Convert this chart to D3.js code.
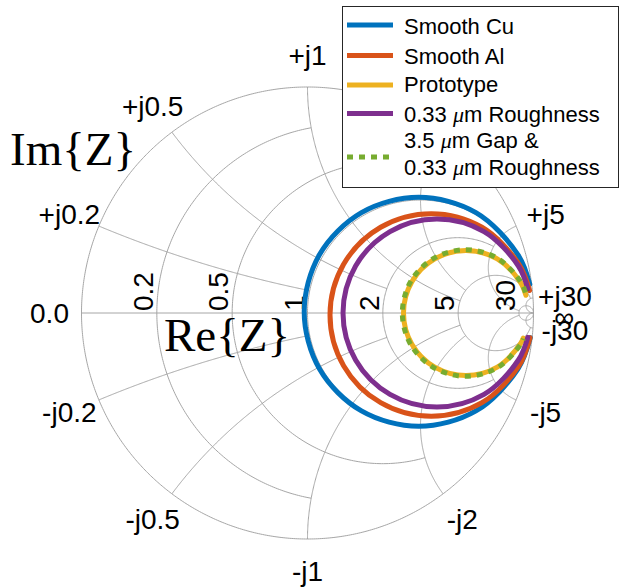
<!DOCTYPE html>
<html>
<head>
<meta charset="utf-8">
<script src="https://cdn.jsdelivr.net/npm/d3@7"></script>
<style>
  html, body { margin: 0; padding: 0; background: #fff; }
  svg { display: block; }
</style>
</head>
<body>
<svg id="chart" width="621" height="588"></svg>
<script>
// Smith chart grid: the value of each circle/arc and how far it is drawn
const gridValues = [0.2, 0.5, 1, 2, 5, 30];
const gridLimits = [1, 2, 5, 5, 30, Infinity];
const reTickLabels = ["0.2", "0.5", "1", "2", "5", "30"];
// the +j2 label sits under the legend box, so it is left empty
const posImLabels = ["+j0.2", "+j0.5", "+j1", "", "+j5", "+j30"];
const negImLabels = ["-j0.2", "-j0.5", "-j1", "-j2", "-j5", "-j30"];

// Measured reflection coefficients (real / imaginary parts) of each sample
const smoothCuRe = [0.9836, 0.9307, 0.7453, 0.4920, 0.2387, 0.0533, -0.0146, 0.0533, 0.2387, 0.4920, 0.7453, 0.9307, 0.9856];
const smoothCuIm = [0.1278, 0.2586, 0.4440, 0.5119, 0.4440, 0.2586, 0.0053, -0.2480, -0.4334, -0.5013, -0.4334, -0.2480, -0.1087];

const smoothAlRe = [0.9827, 0.9359, 0.7719, 0.5478, 0.3237, 0.1597, 0.0996, 0.1597, 0.3237, 0.5478, 0.7719, 0.9359, 0.9845];
const smoothAlIm = [0.0996, 0.2153, 0.3793, 0.4394, 0.3793, 0.2153, -0.0088, -0.2329, -0.3969, -0.4570, -0.3969, -0.2329, -0.1096];

const prototypeRe = [0.9664, 0.9408, 0.8396, 0.7013, 0.5631, 0.4618, 0.4248, 0.4618, 0.5631, 0.7013, 0.8396, 0.9408, 0.9547];
const prototypeIm = [0.0785, 0.1383, 0.2395, 0.2765, 0.2395, 0.1383, 0.0000, -0.1383, -0.2395, -0.2765, -0.2395, -0.1383, -0.1107];

const roughRe = [0.9747, 0.9332, 0.7810, 0.5730, 0.3650, 0.2128, 0.1571, 0.2128, 0.3650, 0.5730, 0.7810, 0.9332, 0.9747];
const roughIm = [0.1076, 0.2080, 0.3602, 0.4159, 0.3602, 0.2080, 0.0000, -0.2080, -0.3602, -0.4159, -0.3602, -0.2080, -0.1076];

const gapRoughRe = [0.9644, 0.9422, 0.8397, 0.6996, 0.5596, 0.4570, 0.4195, 0.4570, 0.5596, 0.6996, 0.8397, 0.9422, 0.9555];
const gapRoughIm = [0.0912, 0.1401, 0.2426, 0.2801, 0.2426, 0.1401, 0.0000, -0.1401, -0.2426, -0.2801, -0.2426, -0.1401, -0.1139];

const seriesNames = ["Smooth Cu", "Smooth Al", "Prototype", "0.33 μm Roughness", "3.5 μm Gap &\n0.33 μm Roughness"];
const seriesColors = ["#0072BD", "#D95319", "#EDB120", "#7E2F8E", "#77AC30"];
const seriesDash = [null, null, null, null, "6,6"];

const series = [
  [smoothCuRe, smoothCuIm],
  [smoothAlRe, smoothAlIm],
  [prototypeRe, prototypeIm],
  [roughRe, roughIm],
  [gapRoughRe, gapRoughIm]
].map(([re, im], i) => ({
  name: seriesNames[i], color: seriesColors[i], dash: seriesDash[i],
  points: re.map((r, k) => [r, im[k]])
}));

const svg = d3.select("#chart");
const cx = 307.5, cy = 313, R = 226;
const sx = d3.scaleLinear().domain([-1, 1]).range([cx - R, cx + R]);
const sy = d3.scaleLinear().domain([-1, 1]).range([cy + R, cy - R]);

const TAU = 2 * Math.PI;
const norm = a => ((a % TAU) + TAU) % TAU;

// reflection coefficient of normalised impedance r + jx
function gamma(r, x) {
  const d = (r + 1) * (r + 1) + x * x;
  return [(r * r - 1 + x * x) / d, 2 * x / d];
}
function arcPoints(c, rho, a0, a1, n = 240) {
  return d3.range(n + 1).map(i => {
    const a = a0 + (a1 - a0) * i / n;
    return [c[0] + rho * Math.cos(a), c[1] + rho * Math.sin(a)];
  });
}
const gridLine = d3.line().x(d => sx(d[0])).y(d => sy(d[1]));

// ---- grid ----
const grid = svg.append("g")
  .attr("fill", "none")
  .attr("stroke", "#a6a6a6")
  .attr("stroke-width", 1);

grid.append("path").attr("d", gridLine(arcPoints([0, 0], 1, 0, TAU, 720)));
grid.append("path").attr("d", gridLine([[-1, 0], [1, 0]]));

gridValues.forEach((v, i) => {
  const lim = gridLimits[i];
  // constant-resistance circle
  const c = v / (1 + v), rho = 1 / (1 + v);
  let ae = 0;
  if (isFinite(lim)) {
    const g = gamma(v, lim);
    ae = Math.atan2(g[1], g[0] - c);
  }
  grid.append("path").attr("d", gridLine(arcPoints([c, 0], rho, ae, TAU - ae)));

  // constant-reactance arcs (+v and -v)
  const xc = [1, 1 / v], rx = 1 / v;
  const p0 = gamma(0, v);
  const a0 = norm(Math.atan2(p0[1] - xc[1], p0[0] - xc[0]));
  let a1 = 1.5 * Math.PI;
  if (isFinite(lim)) {
    const pe = gamma(lim, v);
    a1 = norm(Math.atan2(pe[1] - xc[1], pe[0] - xc[0]));
  }
  const pts = arcPoints(xc, rx, a0, a1);
  [1, -1].forEach(s => {
    grid.append("path").attr("d", gridLine(pts.map(p => [p[0], s * p[1]])));
  });
});

// ---- tick labels ----
const tickFont = "'Liberation Sans', Arial, Helvetica, sans-serif";
const fs = 28;
const labels = svg.append("g")
  .attr("font-family", tickFont)
  .attr("font-size", fs)
  .attr("fill", "#000");

const off = 32;
function rimLabel(g, text) {
  if (!text) return;
  const px = cx + (R + off) * g[0];
  const py = cy - (R + off) * g[1];
  labels.append("text")
    .attr("x", px).attr("y", py + 0.35 * fs)
    .attr("text-anchor", "middle")
    .text(text);
}
gridValues.forEach((v, i) => {
  rimLabel(gamma(0, v), posImLabels[i]);
  rimLabel(gamma(0, -v), negImLabels[i]);
});
rimLabel([-1, 0], "0.0");
rimLabel([0.995, -0.016], "∞");

// resistance values, written upward along the real axis
gridValues.forEach((v, i) => {
  const px = sx((v - 1) / (v + 1)) - 4;
  const py = sy(0) - 2;
  labels.append("text")
    .attr("transform", `translate(${px},${py}) rotate(-90)`)
    .attr("text-anchor", "start")
    .text(reTickLabels[i]);
});

// ---- measured curves ----
const curve = d3.line()
  .x(d => sx(d[0]))
  .y(d => sy(d[1]))
  .curve(d3.curveCatmullRom);

const curves = svg.append("g").attr("fill", "none");
series.forEach(s => {
  curves.append("path")
    .attr("d", curve(s.points))
    .attr("stroke", s.color)
    .attr("stroke-width", 5)
    .attr("stroke-linecap", s.dash ? "butt" : "round")
    .attr("stroke-dasharray", s.dash);
});

// ---- axis titles ----
const serif = "'Liberation Serif', 'DejaVu Serif', serif";
svg.append("text")
  .attr("x", 10).attr("y", 165)
  .attr("font-family", serif).attr("font-size", 47)
  .text("Im{Z}");
svg.append("text")
  .attr("x", 164).attr("y", 351)
  .attr("font-family", serif).attr("font-size", 47)
  .text("Re{Z}");

// ---- legend ----
const legend = svg.append("g");
legend.append("rect")
  .attr("x", 342.5).attr("y", 6.5)
  .attr("width", 276).attr("height", 181)
  .attr("fill", "#fff")
  .attr("stroke", "#262626")
  .attr("stroke-width", 1);

const rowLineY = [25, 55.5, 85, 113.5, 157];
const rowTextY = [[34], [63.5], [92], [121.5], [148, 175]];

function addLabel(x, y, str) {
  const t = legend.append("text")
    .attr("x", x).attr("y", y)
    .attr("font-family", tickFont)
    .attr("font-size", 22)
    .attr("fill", "#000");
  str.split("μ").forEach((part, k) => {
    if (k > 0) {
      t.append("tspan")
        .attr("font-family", serif)
        .attr("font-style", "italic")
        .text("μ");
    }
    t.append("tspan").text(part);
  });
}

series.forEach((s, i) => {
  legend.append("line")
    .attr("x1", 347).attr("x2", 393)
    .attr("y1", rowLineY[i]).attr("y2", rowLineY[i])
    .attr("stroke", s.color)
    .attr("stroke-width", 5)
    .attr("stroke-dasharray", s.dash);
  s.name.split("\n").forEach((ln, k) => addLabel(404, rowTextY[i][k], ln));
});
</script>
</body>
</html>
